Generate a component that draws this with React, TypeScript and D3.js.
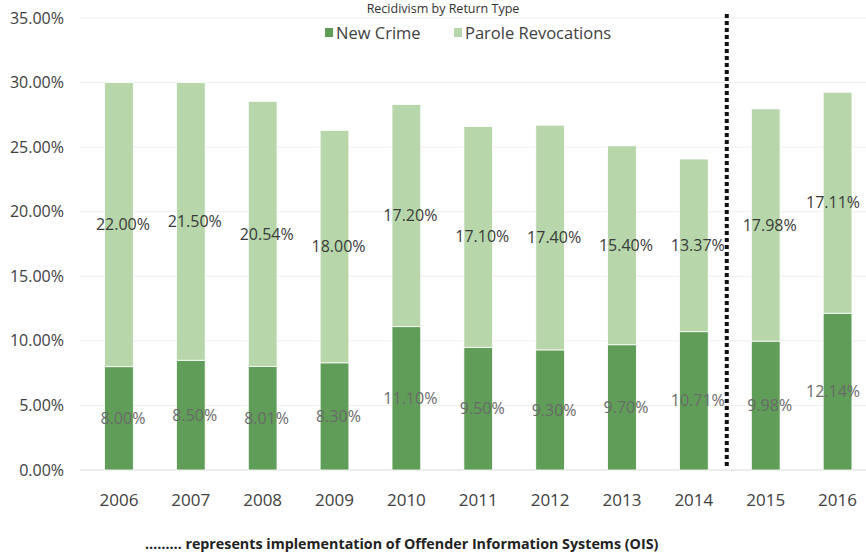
import React, { useEffect, useRef } from 'react';
import * as d3 from 'd3';

const years = ['2006', '2007', '2008', '2009', '2010', '2011', '2012', '2013', '2014', '2015', '2016'];
const newCrime = [8.0, 8.5, 8.01, 8.3, 11.1, 9.5, 9.3, 9.7, 10.71, 9.98, 12.14];
const paroleRevocations = [22.0, 21.5, 20.54, 18.0, 17.2, 17.1, 17.4, 15.4, 13.37, 17.98, 17.11];
const yTicks = [0, 5, 10, 15, 20, 25, 30, 35];
const seriesNames = ['New Crime', 'Parole Revocations'];
const oisYear = '2015';

const width = 866;
const height = 556;
const colors = ['#5f9d58', '#b7d7aa'];
const font = "'Open Sans', 'Noto Sans', sans-serif";

const App: React.FC = () => {
  const ref = useRef<SVGSVGElement>(null);

  useEffect(() => {
    draw();
  }, []);

  function draw() {
    const svg = d3.select(ref.current);
    svg.selectAll('*').remove();

    const x = d3.scaleBand().domain(years).range([83, 873.5]).paddingInner(0.6).paddingOuter(0.3);
    const y = d3.scaleLinear().domain([0, 35]).range([470, 18]);

    // title (sits at the very top edge in the source)
    svg.append('text')
      .attr('x', 443).attr('y', 13)
      .attr('text-anchor', 'middle')
      .attr('font-family', font).attr('font-size', 12.5).attr('fill', '#333')
      .text('Recidivism by Return Type');

    // gridlines
    svg.append('g')
      .selectAll('line')
      .data(yTicks)
      .enter()
      .append('line')
      .attr('x1', 80).attr('x2', 866)
      .attr('y1', (d) => y(d)).attr('y2', (d) => y(d))
      .attr('stroke', (d) => (d === 0 ? '#d9d9d9' : '#eeeeee'))
      .attr('stroke-width', 1);

    // y tick labels
    svg.append('g')
      .selectAll('text')
      .data(yTicks)
      .enter()
      .append('text')
      .attr('x', 64)
      .attr('y', (d) => y(d))
      .attr('dy', '0.35em')
      .attr('text-anchor', 'end')
      .attr('font-family', font).attr('font-size', 16).attr('fill', '#404040')
      .text((d) => `${d.toFixed(2)}%`);

    const rows = years.map((yr, i) => ({ year: yr, newCrime: newCrime[i], parole: paroleRevocations[i] }));
    const stacked = d3.stack<any>().keys(['newCrime', 'parole'])(rows);

    stacked.forEach((layer, li) => {
      const g = svg.append('g');
      g.selectAll('rect')
        .data(layer)
        .enter()
        .append('rect')
        .attr('x', (d: any) => x(d.data.year)!)
        .attr('width', x.bandwidth())
        .attr('y', (d) => y(d[1]))
        .attr('height', (d) => y(d[0]) - y(d[1]))
        .attr('fill', colors[li])
        .attr('stroke', '#fff')
        .attr('stroke-width', 0.8);

      g.selectAll('text')
        .data(layer)
        .enter()
        .append('text')
        .attr('x', (d: any) => Math.min(x(d.data.year)! + x.bandwidth() / 2 + 4, 833))
        .attr('y', (d) => y((d[0] + d[1]) / 2))
        .attr('dy', '0.35em')
        .attr('text-anchor', 'middle')
        .attr('font-family', font).attr('font-size', 16)
        .attr('fill', li === 0 ? '#6a6a6a' : '#3a3a3a')
        .text((d) => `${(d[1] - d[0]).toFixed(2)}%`);
    });

    // x tick labels
    svg.append('g')
      .selectAll('text')
      .data(years)
      .enter()
      .append('text')
      .attr('x', (d) => x(d)! + x.bandwidth() / 2)
      .attr('y', 506)
      .attr('text-anchor', 'middle')
      .attr('font-family', font).attr('font-size', 17).attr('fill', '#404040')
      .text((d) => d);

    // dotted line marking OIS implementation
    const idx = years.indexOf(oisYear);
    const lineX = (x(years[idx - 1])! + x(years[idx])! + x.bandwidth()) / 2 - 3;
    svg.append('line')
      .attr('x1', lineX).attr('x2', lineX)
      .attr('y1', 14).attr('y2', 468)
      .attr('stroke', '#111')
      .attr('stroke-width', 4)
      .attr('stroke-dasharray', '4 3');

    // legend
    const legend = svg.append('g').attr('transform', 'translate(325, 33)');
    const lx = [0, 129];
    seriesNames.forEach((name, i) => {
      legend.append('rect')
        .attr('x', lx[i]).attr('y', -5)
        .attr('width', 8).attr('height', 9)
        .attr('fill', colors[i]);
      legend.append('text')
        .attr('x', lx[i] + 11).attr('y', 0)
        .attr('dy', '0.35em')
        .attr('font-family', font).attr('font-size', 16.5).attr('fill', '#404040')
        .text(name);
    });

    // footnote
    svg.append('text')
      .attr('x', 145).attr('y', 549)
      .attr('font-family', font).attr('font-size', 14.3).attr('font-weight', 'bold').attr('fill', '#222')
      .text('……… represents implementation of Offender Information Systems (OIS)');
  }

  return (
    <svg
      ref={ref}
      width={width}
      height={height}
      style={{ position: 'absolute', left: 0, top: 0, background: '#fff' }}
    />
  );
};

export default App;
